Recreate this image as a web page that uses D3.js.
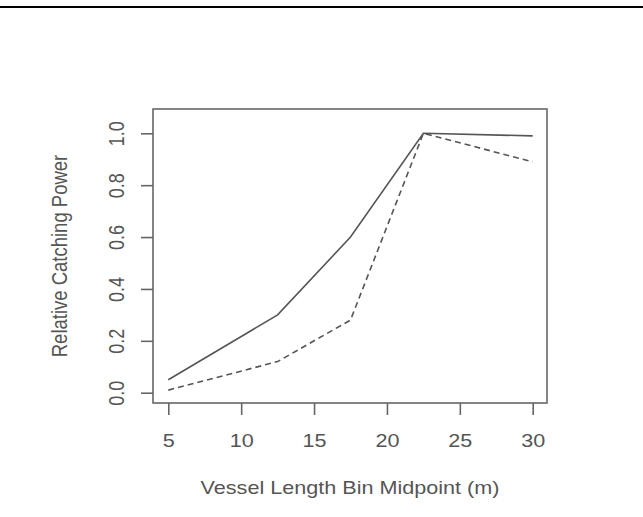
<!DOCTYPE html>
<html>
<head>
<meta charset="utf-8">
<script src="https://cdn.jsdelivr.net/npm/d3@7"></script>
<style>
  body { margin: 0; background: #fff; }
  svg text { font-family: "Liberation Sans", Arial, sans-serif; fill: #555; }
</style>
</head>
<body>
<svg id="chart"></svg>
<script>
const lengthMid = [5, 12.5, 17.5, 22.5, 30];
const solidPower = [0.05, 0.30, 0.60, 1.00, 0.99];
const dashedPower = [0.01, 0.12, 0.28, 1.00, 0.89];
const xTicks = [5, 10, 15, 20, 25, 30];
const yTicks = [0, 0.2, 0.4, 0.6, 0.8, 1.0];

const width = 643, height = 517;
const box = { left: 153, right: 547, top: 109, bottom: 403 };
const fs = 18;
const sx = 1.2; // the picture is stretched sideways

const svg = d3.select("#chart").attr("width", width).attr("height", height);

// rule across the top of the page
svg.append("line")
  .attr("x1", 0).attr("x2", width)
  .attr("y1", 7).attr("y2", 7)
  .attr("stroke", "#000").attr("stroke-width", 2.2);

const x = d3.scaleLinear().domain([5, 30]).range([168.3, 532.7]);
const y = d3.scaleLinear().domain([0, 1]).range([392.7, 133.3]);

svg.append("rect")
  .attr("x", box.left).attr("y", box.top)
  .attr("width", box.right - box.left).attr("height", box.bottom - box.top)
  .attr("fill", "none").attr("stroke", "#666").attr("stroke-width", 1.6);

const xAxis = svg.append("g")
  .attr("transform", `translate(0, ${box.bottom})`)
  .call(d3.axisBottom(x).tickValues(xTicks).tickSize(12).tickFormat(d3.format("d")));
xAxis.select(".domain").remove();
xAxis.selectAll("line").attr("stroke", "#666").attr("stroke-width", 1.6);
xAxis.selectAll("text")
  .attr("font-size", fs).attr("fill", "#555")
  .attr("y", null).attr("dy", null)
  .attr("transform", `translate(0, ${446.5 - box.bottom}) scale(${sx}, 1)`);

const yAxis = svg.append("g")
  .attr("transform", `translate(${box.left}, 0)`)
  .call(d3.axisLeft(y).tickValues(yTicks).tickSize(12).tickFormat(d3.format(".1f")));
yAxis.select(".domain").remove();
yAxis.selectAll("line").attr("stroke", "#666").attr("stroke-width", 1.6);
yAxis.selectAll("text")
  .attr("font-size", fs).attr("fill", "#555")
  .attr("text-anchor", "middle").attr("x", null).attr("dy", null)
  .attr("transform", `translate(${123.7 - box.left}, 0) scale(${sx}, 1) rotate(-90)`);

const line = d3.line()
  .x((d, i) => x(lengthMid[i]))
  .y(d => y(d));

svg.append("path")
  .datum(solidPower)
  .attr("fill", "none").attr("stroke", "#555").attr("stroke-width", 1.6)
  .attr("d", line);

svg.append("path")
  .datum(dashedPower)
  .attr("fill", "none").attr("stroke", "#555").attr("stroke-width", 1.6)
  .attr("stroke-dasharray", "6,4")
  .attr("d", line);

svg.append("text")
  .attr("transform", `translate(${(box.left + box.right) / 2}, 493.5) scale(${sx}, 1)`)
  .attr("text-anchor", "middle").attr("font-size", fs)
  .text("Vessel Length Bin Midpoint (m)");

svg.append("text")
  .attr("transform", `translate(67, ${(box.top + box.bottom) / 2}) scale(${sx}, 1) rotate(-90)`)
  .attr("text-anchor", "middle").attr("font-size", 18.5)
  .text("Relative Catching Power");
</script>
</body>
</html>
